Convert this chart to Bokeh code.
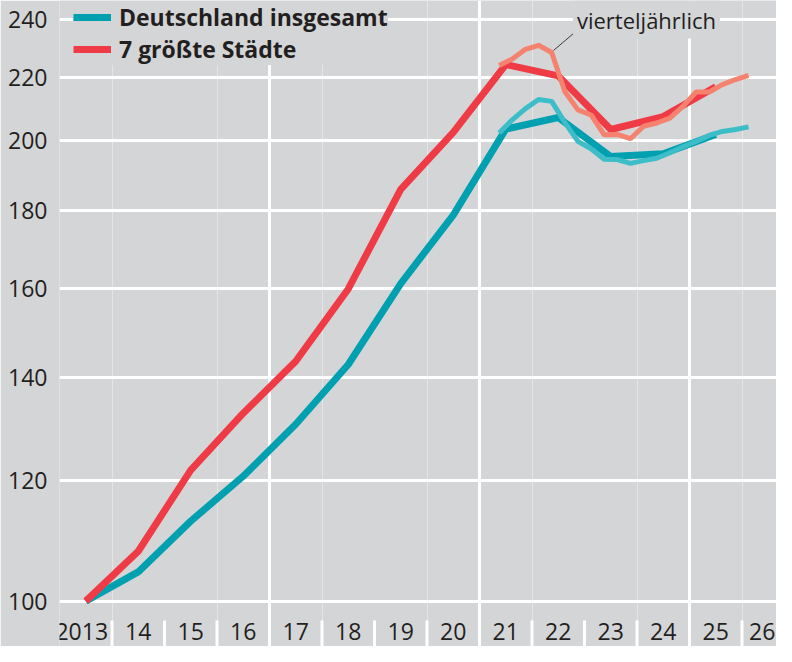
from bokeh.plotting import figure
from bokeh.models import (FixedTicker, NumeralTickFormatter, Legend, LegendItem,
                          Label, LabelSet, ColumnDataSource, Range1d, Grid)
from bokeh.embed import file_html
from bokeh.resources import INLINE
from bokeh.core.properties import value

# ---------------- data ----------------
years = list(range(2013, 2026))
year_labels = ["2013", "14", "15", "16", "17", "18", "19", "20",
               "21", "22", "23", "24", "25", "26"]
de_annual = [100.0, 104.5, 112.8, 120.7, 130.5, 142.8, 161.3, 178.8,
             203.5, 207.1, 195.3, 196.1, 201.9]
city_annual = [100.0, 107.8, 121.8, 132.7, 143.5, 160.0, 185.9, 202.5,
               224.3, 220.5, 203.4, 207.4, 216.9]

quarters = ["2021Q2", "2021Q3", "2021Q4",
            "2022Q1", "2022Q2", "2022Q3", "2022Q4",
            "2023Q1", "2023Q2", "2023Q3", "2023Q4",
            "2024Q1", "2024Q2", "2024Q3", "2024Q4",
            "2025Q1", "2025Q2", "2025Q3", "2025Q4",
            "2026Q1"]
de_quarterly = [202.3, 206.4, 209.9, 212.8, 212.2, 205.6, 199.8, 197.6,
                194.5, 194.4, 193.3, 194.1, 194.8, 196.4, 198.2, 199.8,
                201.6, 202.8, 203.4, 204.2]
city_quarterly = [224.0, 226.2, 229.5, 230.9, 228.4, 215.4, 209.5, 207.9,
                  201.8, 201.9, 200.6, 204.4, 205.4, 206.9, 210.6, 215.2,
                  215.2, 217.6, 219.3, 220.7]

y_ticks = [100, 120, 140, 160, 180, 200, 220, 240]
legend_labels = ["Deutschland insgesamt", "7 größte Städte"]
note_text = "vierteljährlich"

# ---------------- styling ----------------
BG = "#D4D5D7"
TEAL = "#00A0B1"
RED = "#EE3B45"
LTEAL = "#3CBDC8"
SALMON = "#F5826F"
TXT = "#231F20"
FONT = "Open Sans"

Y0, Y1 = 93.4, 247.0

x_annual = [y + 0.5 for y in years]
x_quarterly = [int(q[:4]) + (int(q[-1]) - 0.5) / 4 for q in quarters]

p = figure(width=776, height=646, output_backend="svg", toolbar_location=None,
           x_axis_location=None, y_axis_type="log",
           x_range=Range1d(2013.0, 2026.657), y_range=Range1d(Y0, Y1),
           min_border_left=59, min_border_right=0, min_border_top=0,
           min_border_bottom=0, background_fill_color=BG,
           border_fill_color=BG, outline_line_color=None)

# y axis
yax = p.yaxis[0]
yax.ticker = FixedTicker(ticks=y_ticks)
yax.formatter = NumeralTickFormatter(format="0")
yax.axis_line_color = None
yax.major_tick_line_color = None
yax.minor_tick_line_color = None
yax.major_tick_out = 0
yax.major_tick_in = 0
yax.major_label_standoff = 12
yax.major_label_text_font = FONT
yax.major_label_text_font_size = "23px"
yax.major_label_text_color = TXT

# grids
p.ygrid.ticker = FixedTicker(ticks=y_ticks)
p.ygrid.grid_line_color = "white"
p.ygrid.grid_line_width = 3
xgrid = Grid(dimension=0, ticker=FixedTicker(ticks=[2017, 2021, 2025]),
             grid_line_color="white", grid_line_width=3)
p.add_layout(xgrid)

# short year-boundary ticks at the bottom
bounds = [y + 1 for y in years]
p.segment(x0=bounds, y0=[Y0] * len(bounds), x1=bounds,
          y1=[97.14] * len(bounds), line_color="white", line_width=3)

# lines
r_de = p.line(x_annual, de_annual, line_color=TEAL, line_width=7)
r_city = p.line(x_annual, city_annual, line_color=RED, line_width=7)
p.line(x_quarterly, de_quarterly, line_color=LTEAL, line_width=5)
p.line(x_quarterly, city_quarterly, line_color=SALMON, line_width=5)

# x labels
n = len(year_labels)
lab_src = ColumnDataSource(dict(
    x=[y + 0.5 for y in range(2013, 2013 + n)],
    text=year_labels,
    xoff=[-4 if i == 0 else (-6 if i == n - 1 else 0) for i in range(n)]))
p.add_layout(LabelSet(x="x", y=7, y_units="screen", text="text",
                      source=lab_src, x_offset="xoff", text_align="center",
                      text_baseline="alphabetic", text_font=value(FONT),
                      text_font_size="23px", text_color=TXT))

# legend
legend = Legend(items=[LegendItem(label=legend_labels[0], renderers=[r_de]),
                       LegendItem(label=legend_labels[1], renderers=[r_city])],
                location=(14, 581), margin=0, padding=8, spacing=-4,
                glyph_width=38, glyph_height=24, label_height=24,
                label_standoff=8, background_fill_color=BG,
                background_fill_alpha=1.0, border_line_color=None,
                label_text_font=FONT, label_text_font_style="bold",
                label_text_font_size="23px", label_text_color=TXT)
p.add_layout(legend)

# annotation
p.segment(x0=[2022.41], y0=[229.1], x1=[2022.80], y1=[235.2],
          line_color="#3A3A3A", line_width=1)
p.add_layout(Label(x=2022.78, y=240, text=note_text, text_align="left",
                   text_baseline="middle", text_font=FONT,
                   text_font_size="22px", text_color=TXT,
                   background_fill_color=BG, background_fill_alpha=1.0,
                   padding=4))

open("out.html", "w").write(file_html(p, INLINE))
